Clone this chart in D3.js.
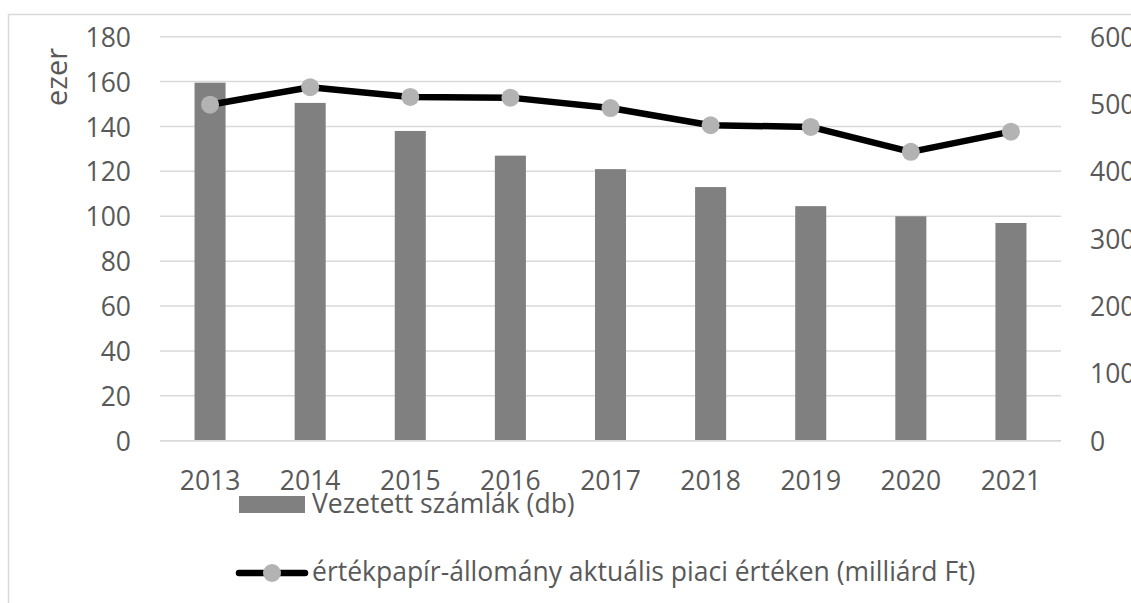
<!DOCTYPE html>
<html>
<head>
<meta charset="utf-8">
<script src="https://cdn.jsdelivr.net/npm/d3@7"></script>
<style>
  body { margin: 0; background: #fff; }
  svg { display: block; }
  text { font-family: "Open Sans", sans-serif; fill: #595959; }
</style>
</head>
<body>
<svg id="chart" width="1131" height="603"></svg>
<script>
// data
const years = ["2013", "2014", "2015", "2016", "2017", "2018", "2019", "2020", "2021"];
const accounts = [159.5, 150.5, 138, 127, 121, 113, 104.5, 100, 97];
const marketValue = [499, 525, 510.5, 509.5, 494, 468.5, 466, 429, 459];
const leftTicks = [0, 20, 40, 60, 80, 100, 120, 140, 160, 180];
const rightTicks = [0, 100, 200, 300, 400, 500, 600];
const barLabel = "Vezetett számlák (db)";
const lineLabel = "értékpapír-állomány aktuális piaci értéken (milliárd Ft)";

const svg = d3.select("#chart");
const plot = { left: 160, right: 1061, top: 36.7, bottom: 440.7 };
const fontSize = 26.5;

// outer chart frame
svg.append("path")
  .attr("d", "M8.5,603 V14.5 H1131")
  .attr("fill", "none")
  .attr("stroke", "#d9d9d9")
  .attr("stroke-width", 1.5);

const x = d3.scaleBand().domain(years).range([plot.left, plot.right]);
const yLeft = d3.scaleLinear().domain([0, 180]).range([plot.bottom, plot.top]);
const yRight = d3.scaleLinear().domain([0, 600]).range([plot.bottom, plot.top]);

// gridlines
svg.append("g")
  .selectAll("line")
  .data(leftTicks)
  .join("line")
  .attr("x1", plot.left)
  .attr("x2", plot.right)
  .attr("y1", (d) => yLeft(d))
  .attr("y2", (d) => yLeft(d))
  .attr("stroke", "#d9d9d9")
  .attr("stroke-width", 1.5);

// left axis
const leftAxis = svg.append("g")
  .attr("transform", `translate(${plot.left},0)`)
  .call(d3.axisLeft(yLeft).tickValues(leftTicks).tickSize(0).tickPadding(29));
leftAxis.select(".domain").remove();
leftAxis.selectAll("text")
  .style("font-size", fontSize + "px")
  .attr("fill", "#595959")
  .attr("dy", "0.36em");

// right axis
const rightAxis = svg.append("g")
  .attr("transform", `translate(${plot.right},0)`)
  .call(d3.axisRight(yRight).tickValues(rightTicks).tickSize(0).tickPadding(29));
rightAxis.select(".domain").remove();
rightAxis.selectAll("text")
  .style("font-size", fontSize + "px")
  .attr("fill", "#595959")
  .attr("dy", "0.36em");

// bottom axis
const bottomAxis = svg.append("g")
  .attr("transform", `translate(0,${plot.bottom})`)
  .call(d3.axisBottom(x).tickSize(0).tickPadding(30));
bottomAxis.select(".domain").remove();
bottomAxis.selectAll("text")
  .style("font-size", fontSize + "px")
  .attr("fill", "#595959");

// axis title
svg.append("text")
  .attr("transform", "translate(67,77) rotate(-90)")
  .attr("text-anchor", "middle")
  .style("font-size", "29px")
  .text("ezer");

// bars
const barW = x.bandwidth() * 0.31;
svg.append("g")
  .selectAll("rect")
  .data(years)
  .join("rect")
  .attr("x", (d) => x(d) + x.bandwidth() / 2 - barW / 2)
  .attr("y", (d, i) => yLeft(accounts[i]))
  .attr("width", barW)
  .attr("height", (d, i) => yLeft(0) - yLeft(accounts[i]))
  .attr("fill", "#808080");

// base line
svg.append("line")
  .attr("x1", plot.left)
  .attr("x2", plot.right)
  .attr("y1", plot.bottom)
  .attr("y2", plot.bottom)
  .attr("stroke", "#d9d9d9")
  .attr("stroke-width", 1.5);

// line series
const line = d3.line()
  .x((d, i) => x(years[i]) + x.bandwidth() / 2)
  .y((d) => yRight(d));

svg.append("path")
  .datum(marketValue)
  .attr("d", line)
  .attr("fill", "none")
  .attr("stroke", "#000")
  .attr("stroke-width", 6.5)
  .attr("stroke-linejoin", "round");

svg.append("g")
  .selectAll("circle")
  .data(marketValue)
  .join("circle")
  .attr("cx", (d, i) => x(years[i]) + x.bandwidth() / 2)
  .attr("cy", (d) => yRight(d))
  .attr("r", 9)
  .attr("fill", "#b3b3b3");

// legend
const legend = svg.append("g");
legend.append("rect")
  .attr("x", 239)
  .attr("y", 496)
  .attr("width", 66)
  .attr("height", 17)
  .attr("fill", "#808080");
legend.append("text")
  .attr("x", 312)
  .attr("y", 513)
  .style("font-size", fontSize + "px")
  .text(barLabel);

legend.append("line")
  .attr("x1", 239)
  .attr("x2", 305)
  .attr("y1", 573)
  .attr("y2", 573)
  .attr("stroke", "#000")
  .attr("stroke-width", 6.5)
  .attr("stroke-linecap", "round");
legend.append("circle")
  .attr("cx", 272)
  .attr("cy", 573)
  .attr("r", 9)
  .attr("fill", "#b3b3b3");
legend.append("text")
  .attr("x", 312)
  .attr("y", 581)
  .style("font-size", fontSize + "px")
  .text(lineLabel);
</script>
</body>
</html>
